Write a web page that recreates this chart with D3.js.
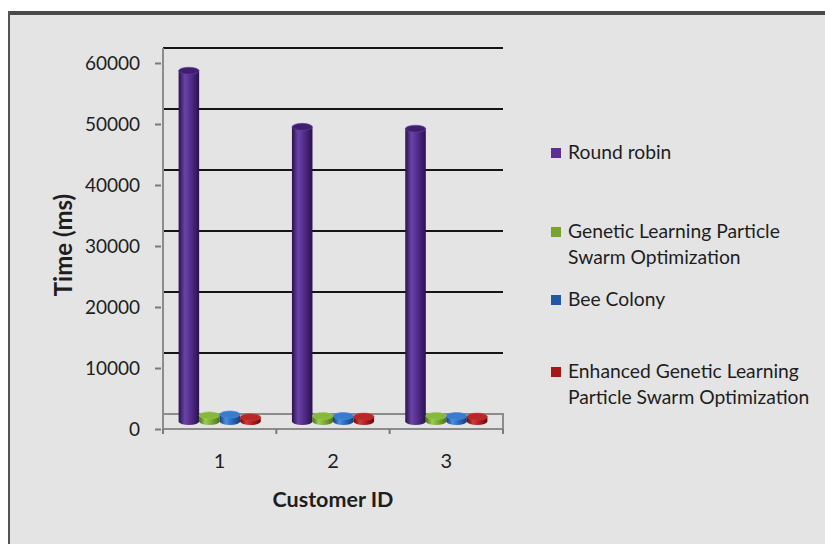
<!DOCTYPE html>
<html>
<head>
<meta charset="utf-8">
<script src="https://cdn.jsdelivr.net/npm/d3@7"></script>
<style>
  html, body { margin: 0; padding: 0; background: #ffffff; }
  svg { display: block; }
  text { font-family: Lato, "Open Sans", sans-serif; fill: #1e1e1e; }
</style>
</head>
<body>
<svg id="chart" width="825" height="544"></svg>
<script>
// ---- data ----
const customers = [1, 2, 3];
const seriesNames = [
  "Round robin",
  "Genetic Learning Particle Swarm Optimization",
  "Bee Colony",
  "Enhanced Genetic Learning Particle Swarm Optimization"
];
const roundRobin = [57500, 48300, 48000];
const glpso      = [1000, 900, 900];
const beeColony  = [1150, 900, 900];
const eglpso     = [700, 800, 800];
const yTicks = [0, 10000, 20000, 30000, 40000, 50000, 60000];
const legendLines = [
  ["Round robin"],
  ["Genetic Learning Particle", "Swarm Optimization"],
  ["Bee Colony"],
  ["Enhanced Genetic Learning", "Particle Swarm Optimization"]
];

const seriesValues = [roundRobin, glpso, beeColony, eglpso];
const palette = [
  { dark: "#2a1249", light: "#6a43a8", mid: "#4d2885", top: "#3e1f6e", key: "#5a2f92" },
  { dark: "#4a7318", light: "#9ccc4e", mid: "#73a431", top: "#86b83e", key: "#78a232" },
  { dark: "#163f7e", light: "#4a8ee0", mid: "#2763b4", top: "#3a7ccc", key: "#2058a8" },
  { dark: "#6a0a0a", light: "#d03a3a", mid: "#a81a1a", top: "#b82828", key: "#a41818" }
];

const svg = d3.select("#chart");

// ---- frame ----
svg.append("rect").attr("x", 8).attr("y", 11).attr("width", 817).attr("height", 533)
  .attr("fill", "#e4e4e4");
svg.append("rect").attr("x", 8).attr("y", 11).attr("width", 817).attr("height", 4)
  .attr("fill", "#4a4a4a");
svg.append("rect").attr("x", 8).attr("y", 11).attr("width", 2).attr("height", 533)
  .attr("fill", "#555555");

// ---- scales ----
const depth = 15;                       // vertical offset between back wall and front edge
const left = 163, right = 503;
const yBack = d3.scaleLinear().domain([0, 60000]).range([414, 48]);
const yFront = d3.scaleLinear().domain([0, 60000]).range([414 + depth, 48 + depth]);
const yMid = d3.scaleLinear().domain([0, 60000]).range([414 + depth / 2, 48 + depth / 2]);

const x = d3.scaleBand().domain(customers).range([left, right]).paddingInner(0).paddingOuter(0);
const xs = d3.scaleBand().domain(d3.range(seriesNames.length))
  .range([0, x.bandwidth()]).paddingInner(0).paddingOuter(0.76);

// ---- gradients ----
const defs = svg.append("defs");
palette.forEach((p, i) => {
  const g = defs.append("linearGradient").attr("id", "cyl" + i)
    .attr("x1", "0%").attr("x2", "100%").attr("y1", "0%").attr("y2", "0%");
  g.append("stop").attr("offset", "0%").attr("stop-color", p.dark);
  g.append("stop").attr("offset", "30%").attr("stop-color", p.light);
  g.append("stop").attr("offset", "65%").attr("stop-color", p.mid);
  g.append("stop").attr("offset", "100%").attr("stop-color", p.dark);
});

// ---- back wall gridlines ----
svg.append("g").selectAll("line").data(yTicks.filter(d => d > 0)).join("line")
  .attr("x1", left).attr("x2", right)
  .attr("y1", d => yBack(d)).attr("y2", d => yBack(d))
  .attr("stroke", "#151515").attr("stroke-width", 2);

// ---- floor ----
svg.append("path")
  .attr("d", `M${left},${yBack(0)}L${right},${yBack(0)}L${right},${yFront(0)}L${left},${yFront(0)}Z`)
  .attr("fill", "none").attr("stroke", "#8c8c8c").attr("stroke-width", 2);

// left wall edge / value axis line
svg.append("line").attr("x1", left).attr("x2", left)
  .attr("y1", yBack(60000)).attr("y2", yFront(0))
  .attr("stroke", "#8c8c8c").attr("stroke-width", 2);

// ---- y axis (front) ----
const yAxis = svg.append("g").attr("transform", `translate(${left - 2},0)`)
  .call(d3.axisLeft(yFront).tickValues(yTicks).tickSize(6).tickPadding(15).tickFormat(d3.format("d")));
yAxis.select(".domain").remove();
yAxis.selectAll(".tick line").attr("stroke", "#7a7a7a").attr("stroke-width", 2);
yAxis.selectAll(".tick text").attr("font-size", 19).attr("font-family", "Lato, sans-serif").attr("fill", "#1e1e1e");

// ---- x axis (front) ----
const bounds = customers.map(c => x(c)).concat([x(customers[customers.length - 1]) + x.bandwidth()]);
svg.append("g").selectAll("line").data(bounds).join("line")
  .attr("x1", d => d).attr("x2", d => d)
  .attr("y1", yFront(0)).attr("y2", yFront(0) + 5)
  .attr("stroke", "#7a7a7a").attr("stroke-width", 2);

const xAxis = svg.append("g").attr("transform", `translate(0,${yFront(0)})`)
  .call(d3.axisBottom(x).tickSize(0).tickPadding(25));
xAxis.select(".domain").remove();
xAxis.selectAll(".tick text").attr("font-size", 20).attr("font-family", "Lato, sans-serif").attr("fill", "#1e1e1e");

// ---- cylinders ----
const ry = 3.5;
const bars = [];
customers.forEach((c, ci) => {
  seriesValues.forEach((vals, si) => {
    bars.push({ c, si, v: vals[ci] });
  });
});
const barG = svg.append("g");
bars.forEach(b => {
  const x0 = x(b.c) + xs(b.si);
  const w = xs.bandwidth();
  const cx = x0 + w / 2;
  const yb = yMid(0), yt = yMid(b.v);
  const g = barG.append("g");
  g.append("ellipse").attr("cx", cx).attr("cy", yb).attr("rx", w / 2).attr("ry", ry)
    .attr("fill", `url(#cyl${b.si})`);
  g.append("rect").attr("x", x0).attr("y", yt).attr("width", w).attr("height", yb - yt)
    .attr("fill", `url(#cyl${b.si})`);
  g.append("ellipse").attr("cx", cx).attr("cy", yt).attr("rx", w / 2).attr("ry", ry)
    .attr("fill", palette[b.si].top).attr("stroke", palette[b.si].light).attr("stroke-width", 0.6);
});

// ---- axis titles ----
svg.append("text")
  .attr("transform", "translate(72,245) rotate(-90)")
  .attr("text-anchor", "middle").attr("font-size", 24).attr("font-weight", 700)
  .text("Time (ms)");
svg.append("text")
  .attr("x", (left + right) / 2).attr("y", 507)
  .attr("text-anchor", "middle").attr("font-size", 21.5).attr("font-weight", 700)
  .text("Customer ID");

// ---- legend ----
const legendY = [153, 232, 300, 372];
const lg = svg.append("g");
legendLines.forEach((lines, i) => {
  lg.append("rect").attr("x", 551).attr("y", legendY[i] - 5).attr("width", 10).attr("height", 10)
    .attr("fill", palette[i].key);
  const t = lg.append("text").attr("x", 568).attr("y", legendY[i] + 6).attr("font-size", 19.3);
  lines.forEach((ln, k) => {
    t.append("tspan").attr("x", 568).attr("dy", k === 0 ? 0 : 26).text(ln);
  });
});
</script>
</body>
</html>
